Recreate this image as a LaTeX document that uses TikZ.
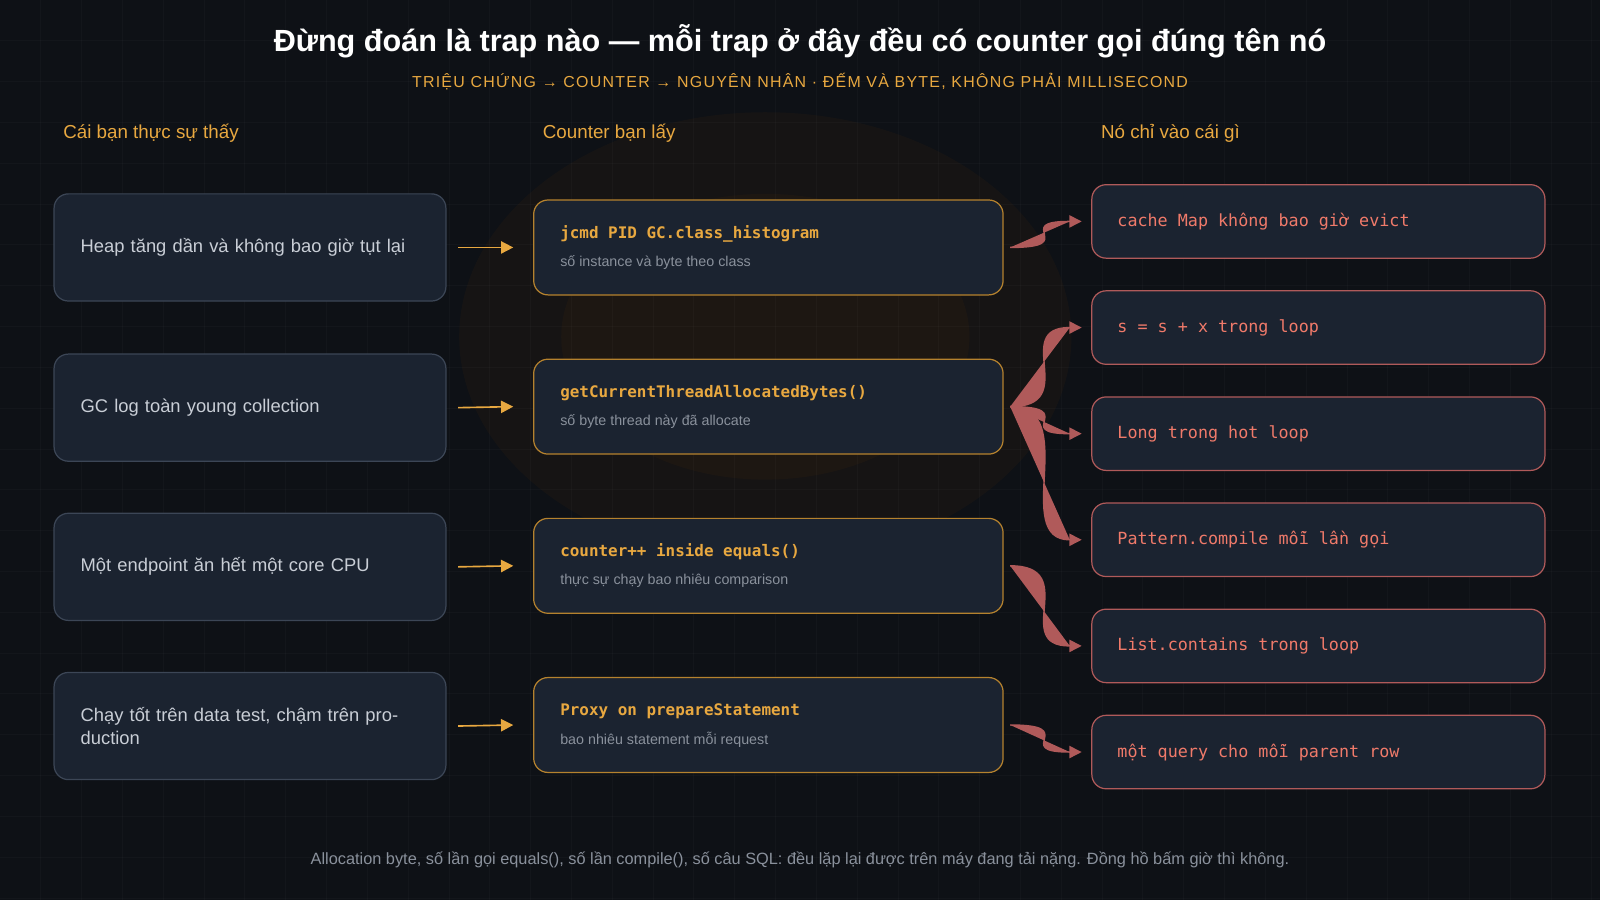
\documentclass[tikz,border=0pt]{standalone}
\usepackage{fontspec}
\setmainfont{Liberation Sans}
\newfontfamily\monof{DejaVu Sans Mono}
\usetikzlibrary{arrows.meta}
\definecolor{bg}{HTML}{0E1116}
\definecolor{boxf}{HTML}{1B2330}
\definecolor{boxl}{HTML}{3C4656}
\definecolor{org}{HTML}{E8A840}
\definecolor{orl}{HTML}{B5822E}
\definecolor{redl}{HTML}{B05A5A}
\definecolor{redt}{HTML}{F07A6A}
\definecolor{txt}{HTML}{C9CED6}
\definecolor{sub}{HTML}{8A919C}
\begin{document}
\begin{tikzpicture}[x=0.5pt,y=-0.5pt,
 lbox/.style={draw=boxl,fill=boxf,rounded corners=7pt,line width=0.6pt},
 mbox/.style={draw=orl,fill=boxf,rounded corners=7pt,line width=0.6pt},
 rbox/.style={draw=redl,fill=boxf,rounded corners=7pt,line width=0.6pt},
 ltxt/.style={anchor=west,text=txt,font=\fontsize{9}{11}\selectfont,align=left,text width=170pt},
 mt/.style={anchor=west,text=org,font=\monof\bfseries\fontsize{7.8}{9}\selectfont},
 ms/.style={anchor=west,text=sub,font=\fontsize{7}{9}\selectfont},
 rt/.style={anchor=west,text=redt,font=\monof\fontsize{8.2}{10}\selectfont},
 hdr/.style={anchor=west,text=org,font=\fontsize{9.2}{11}\selectfont},
 oarr/.style={draw=org,line width=0.8pt,-{Triangle[length=6pt,width=6pt]}},
 rarr/.style={draw=redl,line width=0.7pt,-{Triangle[length=6pt,width=6pt]},fill=redl}]
\fill[bg] (0,0) rectangle (1568,882);
\useasboundingbox (0,0) rectangle (1568,882);
\foreach \x in {40,80,...,1560} \draw[white,opacity=0.025] (\x,0)--(\x,882);
\foreach \y in {40,80,...,880} \draw[white,opacity=0.025] (0,\y)--(1568,\y);
\fill[orange!70!black,opacity=0.05] (750,330) ellipse (300 and 220);
\fill[orange!70!black,opacity=0.05] (750,330) ellipse (200 and 140);
\node (title) at (784,40) {\textcolor{white}{\bfseries\fontsize{15}{18}\selectfont Đừng đoán là trap nào — mỗi trap ở đây đều có counter gọi đúng tên nó}};
\node (subt) at (784,80) {\textcolor{org}{\fontsize{7.8}{9}\selectfont\addfontfeature{LetterSpace=8}TRIỆU CHỨNG → COUNTER → NGUYÊN NHÂN · ĐẾM VÀ BYTE, KHÔNG PHẢI MILLISECOND}};
\node[hdr] (h1) at (55,131) {Cái bạn thực sự thấy};
\node[hdr] (h2) at (525,131) {Counter bạn lấy};
\node[hdr] (h3) at (1072,131) {Nó chỉ vào cái gì};
% left
\foreach \n/\a/\t in {1/190/{Heap tăng dần và không bao giờ tụt lại},2/347/{GC log toàn young collection},3/503/{Một endpoint ăn hết một core CPU},4/659/{Chạy tốt trên data test, chậm trên production}}{
 \path[lbox] (53,\a) rectangle (437,\a+105);
 \coordinate (L\n) at (437,\a+52.5);
 \node[ltxt] (lt\n) at (72,\a+52.5) {\t};
}
% middle
\foreach \n/\a/\t/\s in {1/196/{jcmd PID GC.class\_histogram}/{số instance và byte theo class},2/352/{getCurrentThreadAllocatedBytes()}/{số byte thread này đã allocate},3/508/{counter++ inside equals()}/{thực sự chạy bao nhiêu comparison},4/664/{Proxy on prepareStatement}/{bao nhiêu statement mỗi request}}{
 \path[mbox] (523,\a) rectangle (983,\a+93);
 \coordinate (M\n) at (523,\a+46.5);
 \coordinate (MR\n) at (990,\a+46.5);
 \node[mt] (mt\n) at (542,\a+33) {\t};
 \node[ms] (ms\n) at (542,\a+61) {\s};
}
% right
\foreach \n/\a/\t in {1/181/{cache Map không bao giờ evict},2/285/{s = s + x trong loop},3/389/{Long trong hot loop},4/493/{Pattern.compile mỗi lần gọi},5/597/{List.contains trong loop},6/701/{một query cho mỗi parent row}}{
 \path[rbox] (1070,\a) rectangle (1514,\a+72);
 \coordinate (R\n) at (1060,\a+36);
 \node[rt] (rt\n) at (1088,\a+36) {\t};
}
\foreach \n in {1,...,4} \draw[oarr] ([xshift=6]L\n) -- ([xshift=-10]M\n);
\foreach \m/\r in {1/1,2/2,2/3,2/4,3/5,4/6}
 \draw[rarr] (MR\m) .. controls ([xshift=35]MR\m) and ([xshift=-35]R\r) .. (R\r);
\node (foot) at (784,843) {\textcolor{sub}{\fontsize{8}{10}\selectfont Allocation byte, số lần gọi equals(), số lần compile(), số câu SQL: đều lặp lại được trên máy đang tải nặng. Đồng hồ bấm giờ thì không.}};
\end{tikzpicture}
\end{document}
